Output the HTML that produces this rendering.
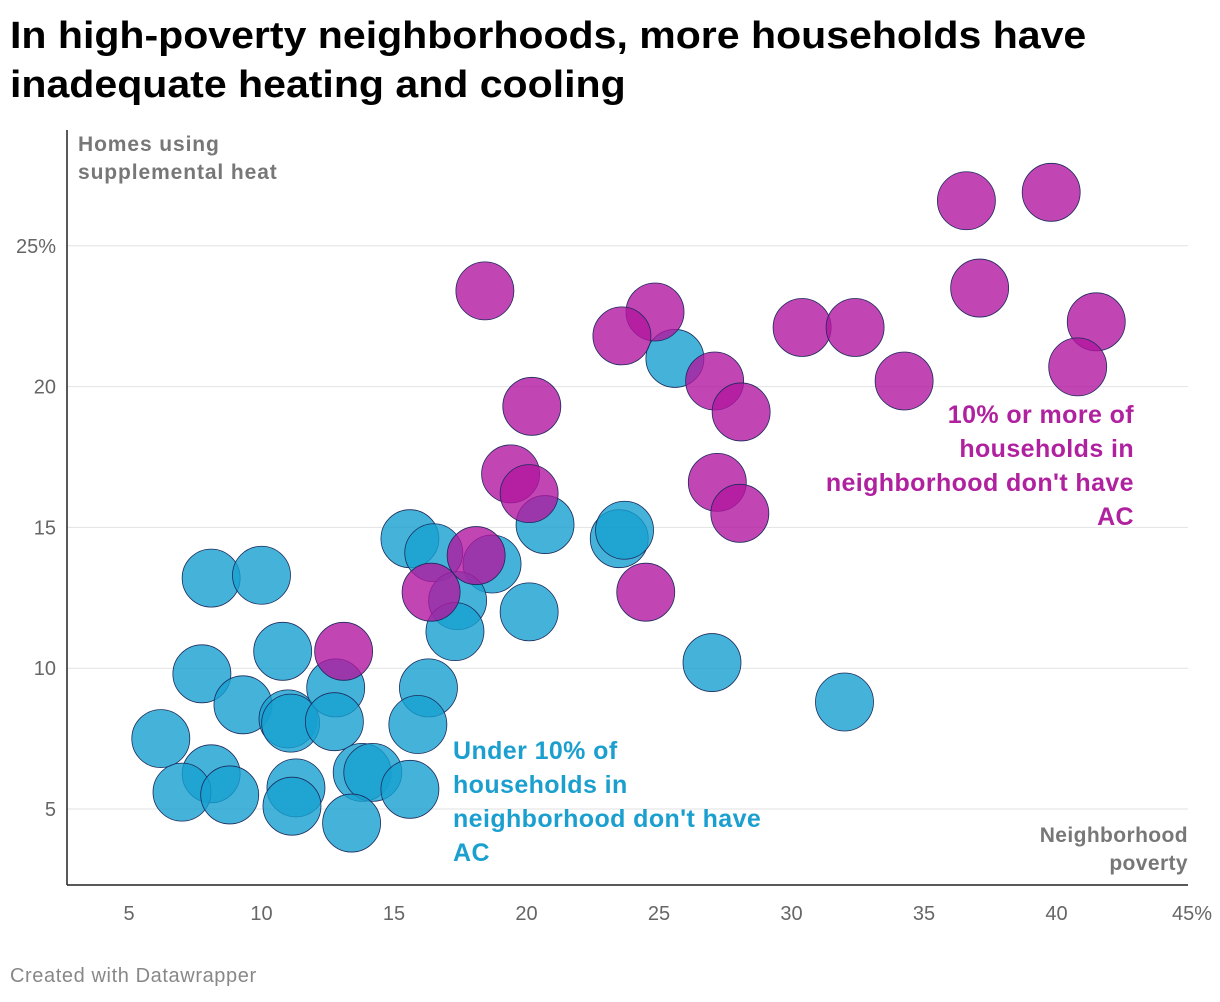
<!DOCTYPE html>
<html><head><meta charset="utf-8">
<style>
body{margin:0;background:#fff;width:1220px;height:1002px;overflow:hidden;font-family:"Liberation Sans",sans-serif;}
h1{position:absolute;left:10px;top:12px;margin:0;font-size:38px;line-height:49px;font-weight:bold;color:#000;transform-origin:0 0;transform:scaleX(1.08);white-space:nowrap;}
.foot{position:absolute;left:10px;top:965px;font-size:20px;color:#888;letter-spacing:0.6px;}
svg{position:absolute;left:0;top:0;}
</style></head><body>
<h1>In high-poverty neighborhoods, more households have<br>inadequate heating and cooling</h1>
<svg id="chart" width="1220" height="1002"></svg>
<div class="foot">Created with Datawrapper</div>
<script>
const xTicks=[5,10,15,20,25,30,35,40,45];
const yTicks=[5,10,15,20,25];
const magX=[18.43,36.6,39.8,37.1,41.5,40.8,24.85,23.6,30.4,32.4,34.25,27.1,28.1,20.2,19.4,20.1,27.2,28.05,18.1,16.4,24.5,13.1];
const magY=[23.4,26.6,26.9,23.5,22.3,20.7,22.65,21.8,22.1,22.1,20.2,20.2,19.1,19.3,16.9,16.2,16.6,15.5,14.0,12.7,12.7,10.6];
const bluX=[25.6,20.7,23.5,23.7,15.6,16.5,18.7,17.4,17.3,20.1,8.1,10.0,27.0,32.0,7.75,10.8,9.3,11.0,11.1,12.8,12.75,16.3,15.9,6.2,8.1,7.0,8.8,11.3,11.15,13.8,14.2,15.6,13.4];
const bluY=[21.0,15.1,14.6,14.9,14.6,14.1,13.7,12.4,11.3,12.0,13.2,13.3,10.2,8.8,9.8,10.6,8.7,8.2,8.05,9.3,8.1,9.3,8.0,7.5,6.25,5.6,5.5,5.75,5.1,6.3,6.3,5.7,4.5];
const sx=v=>129+(v-5)*26.5;
const sy=v=>809-(v-5)*28.16;
const NS="http://www.w3.org/2000/svg";
const svg=document.getElementById('chart');
function mk(t,a,txt){const e=document.createElementNS(NS,t);for(const k in a)e.setAttribute(k,a[k]);if(txt!==undefined)e.textContent=txt;svg.appendChild(e);return e;}
yTicks.forEach(v=>{
 const g=mk('line',{x1:67,x2:1188,y1:sy(v),y2:sy(v),stroke:'#e2e2e2','stroke-width':1});
 
 
 const t=mk('text',{x:56,y:sy(v)+7,'text-anchor':'end','font-size':20,fill:'#666'},v===25?'25%':String(v));
 
 
});
xTicks.forEach(v=>{
 const t=mk('text',{x:v===45?sx(v)+3:sx(v),y:920,'text-anchor':'middle','font-size':20,fill:'#666'},v===45?'45%':String(v));
 
 
});
const ax=mk('line',{x1:67,x2:67,y1:130,y2:885,stroke:'#222','stroke-width':1.5});


const bx=mk('line',{x1:67,x2:1188,y1:885,y2:885,stroke:'#222','stroke-width':1.5});


function pts(xs,ys,col,name){xs.forEach((v,i)=>{
 const c=mk('circle',{cx:sx(v),cy:sy(ys[i]),r:29,fill:col,'fill-opacity':0.8,stroke:'#1b2a5c','stroke-width':0.8});
 
 
});}
pts(bluX,bluY,'#17a0cf','blue');
pts(magX,magY,'#b1169f','magenta');
function lbl(lines,x,y,anchor,col,size,name,lh,ls){
 const t=mk('text',{x:x,y:y,'text-anchor':anchor,'font-size':size,'font-weight':'bold',fill:col,'letter-spacing':ls});
 lines.forEach((s,i)=>{const sp=document.createElementNS(NS,'tspan');sp.setAttribute('x',x);sp.setAttribute('dy',i?lh:0);sp.textContent=s;t.appendChild(sp);});
 
 
}
lbl(['Homes using','supplemental heat'],78,151,'start','#777',21,'y-axis-title',28,0.9);
lbl(['Neighborhood','poverty'],1188,842,'end','#777',21,'x-axis-title',28,0.4);
lbl(['10% or more of','households in',"neighborhood don't have",'AC'],1134,423,'end','#b0219f',25,'magenta-annotation',34,0.4);
lbl(['Under 10% of','households in',"neighborhood don't have",'AC'],453,759,'start','#1b9fcf',25,'blue-annotation',34,0.4);
</script>
</body></html>
